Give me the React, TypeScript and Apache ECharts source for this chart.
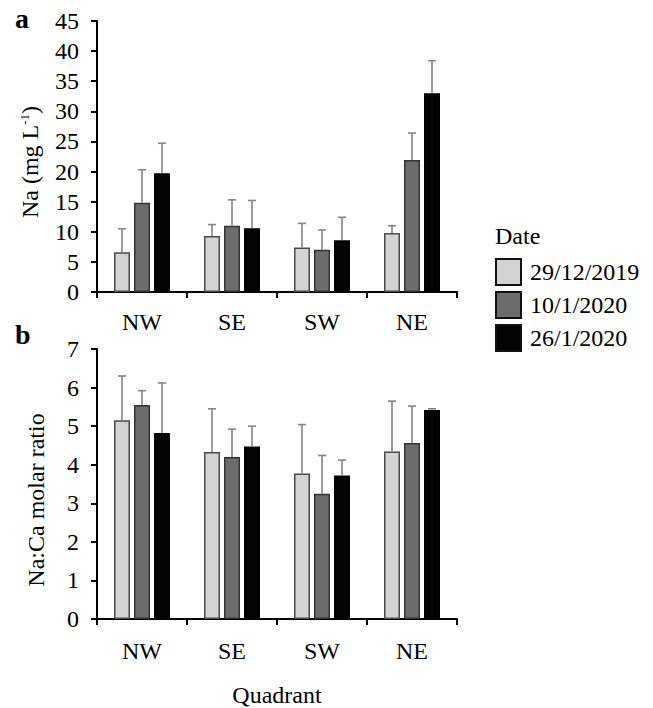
import React, { useEffect, useRef } from "react";
import * as echarts from "echarts";

const categories = ["NW", "SE", "SW", "NE"];
const dates = ["29/12/2019", "10/1/2020", "26/1/2020"];
const naTicks = [0, 5, 10, 15, 20, 25, 30, 35, 40, 45];

// Panel a: Na (mg L-1), mean and SD
const naMean29Dec = [6.6, 9.3, 7.4, 9.8];
const naMean10Jan = [14.8, 11.0, 7.0, 21.9];
const naMean26Jan = [19.7, 10.6, 8.6, 33.0];
const naSd29Dec = [3.9, 1.9, 4.0, 1.2];
const naSd10Jan = [5.5, 4.3, 3.3, 4.5];
const naSd26Jan = [5.0, 4.6, 3.8, 5.4];

// Panel b: Na:Ca molar ratio, mean and SD
const ratioMean29Dec = [5.15, 4.33, 3.77, 4.34];
const ratioMean10Jan = [5.55, 4.2, 3.25, 4.56];
const ratioMean26Jan = [4.82, 4.47, 3.72, 5.42];
const ratioSd29Dec = [1.15, 1.12, 1.27, 1.31];
const ratioSd10Jan = [0.37, 0.72, 0.99, 0.96];
const ratioSd26Jan = [1.3, 0.53, 0.4, 0.03];

const FONT = "Liberation Serif";
const fills = ["#d3d3d3", "#6c6c6c", "#030303"];
const borders = ["#4a4a4a", "#333333", "#000000"];
const offsets = [-20, 0, 20];

export default function App() {
  const ref = useRef<HTMLDivElement>(null);

  useEffect(() => {
    if (!ref.current) return;
    const chart = echarts.init(ref.current, null, { renderer: "svg" });

    const naMeans = [naMean29Dec, naMean10Jan, naMean26Jan];
    const naSds = [naSd29Dec, naSd10Jan, naSd26Jan];
    const rMeans = [ratioMean29Dec, ratioMean10Jan, ratioMean26Jan];
    const rSds = [ratioSd29Dec, ratioSd10Jan, ratioSd26Jan];

    const barSeries = (gi: number, means: number[][]) =>
      means.map((m, i) => ({
        type: "bar",
        name: dates[i],
        xAxisIndex: gi,
        yAxisIndex: gi,
        data: m,
        barWidth: 16,
        barGap: "25%",
        itemStyle: { color: fills[i], borderColor: borders[i], borderWidth: 1.5 },
      }));

    const errSeries = (gi: number, means: number[][], sds: number[][]) =>
      means.map((m, i) => ({
        type: "custom",
        name: "err" + gi + i,
        xAxisIndex: gi,
        yAxisIndex: gi,
        z: 3,
        data: m.map((v, k) => [k, v, v + sds[i][k]]),
        encode: { x: 0, y: 1 },
        renderItem: (params: any, api: any) => {
          const k = api.value(0);
          const p0 = api.coord([k, api.value(1)]);
          const p1 = api.coord([k, api.value(2)]);
          const x = p0[0] + offsets[i];
          const st = { stroke: "#858585", lineWidth: 1.6 };
          return {
            type: "group",
            children: [
              { type: "line", shape: { x1: x, y1: p0[1], x2: x, y2: p1[1] }, style: st },
              { type: "line", shape: { x1: x - 4, y1: p1[1], x2: x + 4, y2: p1[1] }, style: st },
            ],
          };
        },
      }));

    const axisLine = { show: true, lineStyle: { color: "#000", width: 2 } };
    const labelStyle = { color: "#000", fontSize: 24, fontFamily: FONT };

    chart.setOption({
      animation: false,
      backgroundColor: "#fff",
      textStyle: { fontFamily: FONT },
      grid: [
        { left: 97, top: 21, width: 360, height: 271 },
        { left: 97, top: 349, width: 360, height: 281 },
      ],
      xAxis: [0, 1].map((gi) => ({
        type: "category",
        gridIndex: gi,
        data: categories,
        axisLine,
        axisTick: { show: true, length: 6, lineStyle: { color: "#000", width: 2 } },
        axisLabel: { ...labelStyle, margin: gi === 0 ? 18 : 20 },
        name: gi === 1 ? "Quadrant" : "",
        nameLocation: "middle",
        nameGap: 64,
        nameTextStyle: { ...labelStyle },
      })),
      yAxis: [
        {
          type: "value",
          gridIndex: 0,
          min: naTicks[0],
          max: naTicks[naTicks.length - 1],
          interval: 5,
          axisLine,
          axisTick: { show: true, length: 6, lineStyle: { color: "#000", width: 2 } },
          splitLine: { show: false },
          axisLabel: { ...labelStyle, margin: 18 },
        },
        {
          type: "value",
          gridIndex: 1,
          min: 0,
          max: 7,
          interval: 1,
          axisLine,
          axisTick: { show: true, length: 6, lineStyle: { color: "#000", width: 2 } },
          splitLine: { show: false },
          axisLabel: { ...labelStyle, margin: 18 },
        },
      ],
      legend: {
        left: 490,
        top: 253,
        orient: "vertical",
        itemWidth: 25,
        itemHeight: 26,
        itemGap: 5,
        icon: "rect",
        selectedMode: false,
        data: dates.map((d, i) => ({
          name: d,
          itemStyle: { color: fills[i], borderColor: "#111", borderWidth: 2 },
        })),
        textStyle: { ...labelStyle, lineHeight: 26, padding: [0, 0, 0, 4] },
      },
      graphic: [
        {
          type: "text",
          left: 495,
          top: 224,
          style: { text: "Date", fill: "#000", fontSize: 24, fontFamily: FONT },
        },
        {
          type: "text",
          x: 15,
          y: 18,
          style: { text: "a", fill: "#000", fontSize: 28, fontWeight: "bold", fontFamily: FONT, verticalAlign: "middle" },
        },
        {
          type: "text",
          x: 15,
          y: 334,
          style: { text: "b", fill: "#000", fontSize: 28, fontWeight: "bold", fontFamily: FONT, verticalAlign: "middle" },
        },
        {
          type: "text",
          x: 30,
          y: 162,
          rotation: Math.PI / 2,
          style: {
            text: "Na (mg L{sup|-1})",
            fill: "#000",
            fontSize: 24,
            fontFamily: FONT,
            align: "center",
            verticalAlign: "middle",
            rich: {
              sup: { fontSize: 13, fontFamily: FONT, verticalAlign: "top", padding: [0, 0, 10, 0], fill: "#000" },
            },
          },
        },
        {
          type: "text",
          x: 36,
          y: 500,
          rotation: Math.PI / 2,
          style: {
            text: "Na:Ca molar ratio",
            fill: "#000",
            fontSize: 24,
            fontFamily: FONT,
            align: "center",
            verticalAlign: "middle",
          },
        },
      ],
      series: [
        ...barSeries(0, naMeans),
        ...barSeries(1, rMeans),
        ...errSeries(0, naMeans, naSds),
        ...errSeries(1, rMeans, rSds),
      ],
    });

    return () => chart.dispose();
  }, []);

  return <div ref={ref} style={{ width: 653, height: 708, position: "absolute", left: 0, top: 0 }} />;
}
